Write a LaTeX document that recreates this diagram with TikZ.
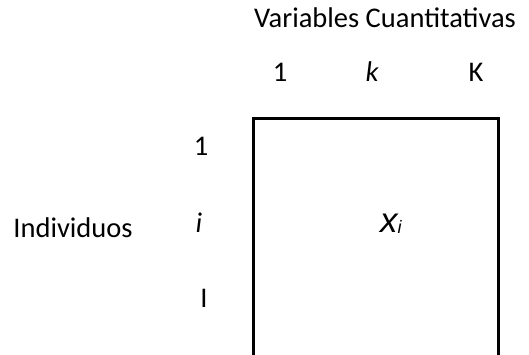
\documentclass[tikz,border=0pt]{standalone}
\usepackage{fontspec}
\setmainfont{Carlito}
\newfontfamily\xfont{Liberation Sans}
\usepackage{tikz}
\usetikzlibrary{positioning}

\begin{document}
\begin{tikzpicture}[
  x=1pt, y=-1pt,
  lbl/.style={inner sep=0pt, anchor=base, font=\fontsize{28.5}{34}\selectfont},
  ilbl/.style={lbl, font=\fontsize{28.5}{34}\selectfont\itshape},
  matbox/.style={draw, line width=2.5pt}
]
%% canvas
\clip (0,0) rectangle (529,355);
\useasboundingbox (0,0) rectangle (529,355);

%% column header
\node[lbl] (vars) at (385,28) {Variables Cuantitativas};
\node[lbl]  (c1) at (280,82) {1};
\node[ilbl] (ck) at (372,82) {k};
\node[lbl]  (cK) at (476,82) {K};

%% row header
\node[lbl] (indiv) at (73,237) {Individuos};
\node[lbl]  (r1) at (201,156) {1};
\node[ilbl] (ri) at (199,232) {i};
\node[lbl]  (rI) at (204,307) {I};

%% data matrix (runs past the lower edge)
\draw[matbox] (253.5,118.5) rectangle (498.5,420);
\node[inner sep=0pt, anchor=base west,
      font=\fontsize{35}{40}\selectfont\xfont\itshape] (xi) at (380,232)
  {x\raisebox{-1pt}{\fontsize{18}{20}\selectfont i}};
\end{tikzpicture}
\end{document}
